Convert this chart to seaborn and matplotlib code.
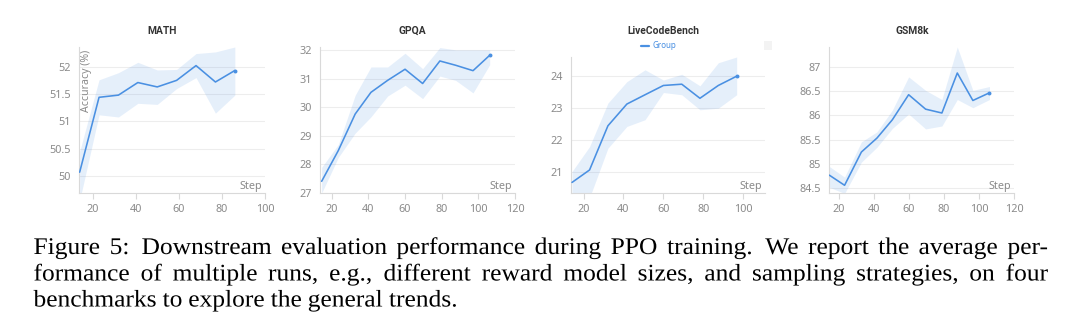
import matplotlib
matplotlib.use("Agg")
import matplotlib.pyplot as plt
import seaborn as sns
import pandas as pd
from matplotlib.ticker import FuncFormatter
from matplotlib.patheffects import AbstractPathEffect
from matplotlib.transforms import Affine2D
from matplotlib.patches import Rectangle

# ---------------- data ----------------
titles = ["MATH", "GPQA", "LiveCodeBench", "GSM8k"]

math_steps = [14, 23, 32, 41, 50, 59, 68, 77, 86]
math_mean = [50.07, 51.44, 51.48, 51.71, 51.63, 51.75, 52.02, 51.72, 51.93]
math_low = [49.55, 51.12, 51.08, 51.33, 51.31, 51.60, 51.80, 51.15, 51.48]
math_high = [50.45, 51.76, 51.89, 52.08, 51.94, 51.95, 52.24, 52.27, 52.36]

gpqa_steps = [14.5, 23.6, 32.8, 41.4, 50.5, 60, 69.6, 79, 87.6, 97.1, 106.2]
gpqa_mean = [27.41, 28.49, 29.77, 30.53, 30.95, 31.34, 30.84, 31.63, 31.48, 31.29, 31.83]
gpqa_low = [27.0, 28.25, 29.10, 29.67, 30.40, 30.78, 30.31, 31.10, 30.95, 30.51, 31.50]
gpqa_high = [27.9, 28.70, 30.43, 31.42, 31.42, 31.90, 31.36, 32.10, 32.02, 32.02, 32.02]

lcb_steps = [14.2, 23, 32.2, 41.7, 50.8, 60, 69.2, 78.3, 87.5, 96.7]
lcb_mean = [20.68, 21.07, 22.45, 23.13, 23.42, 23.71, 23.75, 23.31, 23.71, 24.00]
lcb_low = [20.20, 20.20, 21.75, 22.43, 22.64, 23.49, 23.42, 22.95, 23.00, 23.42]
lcb_high = [21.02, 21.80, 23.16, 23.83, 24.20, 23.88, 24.06, 23.70, 24.42, 24.60]

gsm_steps = [14.5, 23.2, 32.8, 41.7, 50.5, 59.8, 69.5, 78.8, 87.6, 96.5, 106]
gsm_mean = [84.76, 84.55, 85.24, 85.53, 85.91, 86.43, 86.13, 86.05, 86.88, 86.31, 86.47]
gsm_low = [84.51, 84.38, 85.03, 85.34, 85.73, 86.03, 85.72, 85.78, 86.33, 86.16, 86.33]
gsm_high = [84.94, 84.72, 85.45, 85.66, 86.11, 86.80, 86.52, 86.33, 87.42, 86.52, 86.60]

math_yticks = [50, 50.5, 51, 51.5, 52]
gpqa_yticks = [27, 28, 29, 30, 31, 32]
lcb_yticks = [21, 22, 23, 24]
gsm_yticks = [84.5, 85, 85.5, 86, 86.5, 87]

math_xticks = [20, 40, 60, 80, 100]
other_xticks = [20, 40, 60, 80, 100, 120]
lcb_xticks = [20, 40, 60, 80, 100]

caption_lines = [
    "Figure 5:  Downstream evaluation performance during PPO training.  We report the average per-",
    "formance of multiple runs, e.g., different reward model sizes, and sampling strategies, on four",
    "benchmarks to explore the general trends.",
]

# ---------------- style ----------------
sns.set_theme(style="white")
plt.rcParams["font.family"] = ["Noto Sans", "DejaVu Sans"]

BLUE = "#4A90E2"
TICK_C = "#8a8a8a"
GRID_C = "#ededed"
SPINE_C = "#d9d9d9"
FS = 7.8

W, H = 1080, 331
fig = plt.figure(figsize=(W / 100, H / 100), dpi=100)


def px_axes(l, t, r, b):
    return fig.add_axes([l / W, 1 - b / H, (r - l) / W, (b - t) / H])


panels = [
    dict(box=(79, 47, 265, 193), steps=math_steps, mean=math_mean, low=math_low, high=math_high,
         xlim=(13.7, 100), ylim=(49.69, 52.36), yt=math_yticks, xt=math_xticks, tx=162),
    dict(box=(320, 47, 515, 193), steps=gpqa_steps, mean=gpqa_mean, low=gpqa_low, high=gpqa_high,
         xlim=(13.6, 120), ylim=(27.0, 32.12), yt=gpqa_yticks, xt=other_xticks, tx=412),
    dict(box=(571, 57, 765, 193), steps=lcb_steps, mean=lcb_mean, low=lcb_low, high=lcb_high,
         xlim=(13.7, 110.9), ylim=(20.35, 24.6), yt=lcb_yticks, xt=lcb_xticks, tx=663),
    dict(box=(829, 47, 1014, 193), steps=gsm_steps, mean=gsm_mean, low=gsm_low, high=gsm_high,
         xlim=(14.3, 120), ylim=(84.39, 87.42), yt=gsm_yticks, xt=other_xticks, tx=912),
]

fmt = FuncFormatter(lambda v, p: f"{v:g}")

for i, (p, title) in enumerate(zip(panels, titles)):
    ax = px_axes(*p["box"])
    df = pd.DataFrame({"Step": p["steps"], "Accuracy": p["mean"]})
    ax.fill_between(p["steps"], p["low"], p["high"], color=BLUE, alpha=0.14, lw=0, zorder=1)
    sns.lineplot(data=df, x="Step", y="Accuracy", ax=ax, color=BLUE, lw=1.15,
                 label="Group" if i == 2 else None, legend=False, zorder=3)
    ax.scatter([p["steps"][-1]], [p["mean"][-1]], s=8, color=BLUE, zorder=4, lw=0)
    ax.set_xlim(*p["xlim"])
    ax.set_ylim(*p["ylim"])
    ax.set_yticks(p["yt"])
    ax.set_xticks(p["xt"])
    ax.yaxis.set_major_formatter(fmt)
    ax.xaxis.set_major_formatter(fmt)
    ax.set_xlabel("")
    ax.set_ylabel("")
    ax.grid(axis="y", color=GRID_C, lw=0.8)
    ax.set_axisbelow(True)
    for s in ["top", "right"]:
        ax.spines[s].set_visible(False)
    for s in ["left", "bottom"]:
        ax.spines[s].set_color(SPINE_C)
        ax.spines[s].set_linewidth(0.8)
    ax.tick_params(axis="y", length=0, pad=6, labelsize=FS, labelcolor=TICK_C)
    ax.tick_params(axis="x", length=4, width=0.8, color=SPINE_C, pad=4, labelsize=FS,
                   labelcolor=TICK_C, bottom=True)
    ax.text(0.985, 0.005, "Step", transform=ax.transAxes, ha="right", va="bottom",
            fontsize=FS, color=TICK_C)
    fig.text(p["tx"] / W, 1 - 31 / H, title, ha="center", va="center",
             fontsize=7.4, fontweight="bold", color="#333333",
             family=["Roboto", "DejaVu Sans"])
    if i == 0:
        ax.text(8 / (p["box"][2] - p["box"][0]), 0.98, "Accuracy (%)", transform=ax.transAxes,
                rotation=90, ha="center", va="top", fontsize=7.6, color=TICK_C)
    if i == 2:
        leg = ax.legend(loc="center left", bbox_to_anchor=(641 / W, 1 - 46 / H),
                        bbox_transform=fig.transFigure, frameon=False, fontsize=5.8,
                        handlelength=0.95, handletextpad=0.5, labelcolor=BLUE,
                        borderaxespad=0, borderpad=0)
        for lh in leg.get_lines():
            lh.set_linewidth(1.6)

# faint UI square next to the legend
fig.patches.append(Rectangle((764 / W, 1 - 49.5 / H), 8 / W, 8 / H, transform=fig.transFigure,
                             facecolor="#f3f3f3", edgecolor="none"))


# ---------------- caption (justified) ----------------
class HStretch(AbstractPathEffect):
    def __init__(self, sx):
        super().__init__()
        self.sx = sx

    def draw_path(self, renderer, gc, tpath, affine, rgbFace=None):
        x0 = affine.get_matrix()[0, 2]
        aff = affine + Affine2D().translate(-x0, 0).scale(self.sx, 1).translate(x0, 0)
        renderer.draw_path(gc, tpath, aff, rgbFace)


renderer = fig.canvas.get_renderer()
x0, x1 = 33.5, 1048
baselines = [254, 280.5, 306.5]
cap_kw = dict(fontsize=17.2, family=["Liberation Serif", "DejaVu Serif"], color="black",
              va="baseline", ha="left")


def wlen(s):
    t = fig.text(0, 0, s, **cap_kw)
    w = t.get_window_extent(renderer=renderer).width
    t.remove()
    return w


line1_words = caption_lines[0].split()
SX = 895.0 / sum(wlen(w) for w in line1_words)
space_w = (wlen("a b") - wlen("ab")) * SX


def gap_weight(word):
    return 1.3 if (word.endswith(".") or word.endswith(":")) and not word.endswith("g.,") else 1.0


for li, (line, yb) in enumerate(zip(caption_lines, baselines)):
    words = line.split()
    texts, widths = [], []
    for w in words:
        t = fig.text(0, 1 - yb / H, w, path_effects=[HStretch(SX)], **cap_kw)
        texts.append(t)
        widths.append(t.get_window_extent(renderer=renderer).width * SX)
    weights = [gap_weight(w) for w in words[:-1]]
    if li < len(caption_lines) - 1:
        unit = (x1 - x0 - sum(widths)) / sum(weights)
    else:
        unit = space_w * 0.95
    x = x0
    for k, (t, wdt) in enumerate(zip(texts, widths)):
        t.set_x(x / W)
        if k < len(weights):
            x += wdt + unit * weights[k]

fig.savefig("out.png", dpi=100)
